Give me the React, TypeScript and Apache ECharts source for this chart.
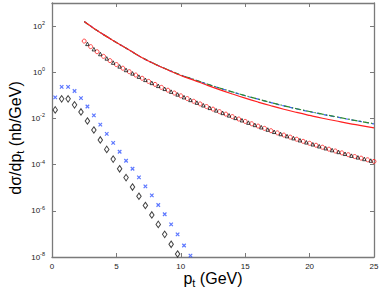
import React, { useEffect, useRef } from "react";
import * as echarts from "echarts";

// Upper curves (theory lines)
const curvePt = [2.5, 3, 3.5, 4, 4.5, 5, 6, 7, 8, 9, 10, 11, 12, 13, 14, 15, 16, 17, 18, 19, 20, 21, 22, 23, 24, 25];
const redSolid = [158, 100, 64.6, 42.7, 28.8, 19.5, 9.12, 4.27, 2.24, 1.26, 0.724, 0.457, 0.282, 0.178, 0.115, 0.0759, 0.0513, 0.0355, 0.0251, 0.0182, 0.0135, 0.0102, 0.00794, 0.00617, 0.0049, 0.00389];
const greenDashDot = [158, 100, 64.6, 42.7, 28.8, 19.5, 9.12, 4.27, 2.25, 1.28, 0.76, 0.49, 0.316, 0.209, 0.142, 0.0977, 0.0692, 0.0490, 0.0355, 0.0263, 0.0200, 0.0153, 0.0120, 0.00933, 0.00741, 0.00589];
const blueDashed = [158, 100, 64.6, 42.7, 28.8, 19.5, 9.12, 4.27, 2.25, 1.28, 0.755, 0.485, 0.312, 0.206, 0.14, 0.0962, 0.0682, 0.0483, 0.035, 0.0259, 0.0197, 0.0151, 0.0118, 0.0092, 0.0073, 0.0058];

// Red circles
const circlePt = [2.5, 3, 3.5, 4, 4.5, 5, 5.5, 6, 6.5, 7, 7.5, 8, 8.5, 9, 9.5, 10, 10.5, 11, 11.5, 12, 12.5, 13, 13.5, 14, 14.5, 15, 15.5, 16, 16.5, 17, 17.5, 18, 18.5, 19, 19.5, 20, 20.5, 21, 21.5, 22, 22.5, 23, 23.5, 24, 24.5, 25];
const circleVal = [22.4, 12.9, 7.76, 4.9, 3.2, 2.16, 1.5, 1.06, 0.759, 0.55, 0.403, 0.299, 0.222, 0.167, 0.126, 0.0955, 0.0728, 0.0555, 0.0426, 0.0328, 0.0254, 0.0197, 0.0154, 0.012, 0.00944, 0.00745, 0.00589, 0.00468, 0.00372, 0.00295, 0.00237, 0.00191, 0.00155, 0.00126, 0.00102, 8.41e-4, 6.92e-4, 5.69e-4, 4.68e-4, 3.89e-4, 3.24e-4, 2.69e-4, 2.24e-4, 1.91e-4, 1.62e-4, 1.38e-4];

// Black triangles
const trianglePt = [2.75, 3.25, 3.75, 4.25, 4.75, 5.25, 5.75, 6.25, 6.75, 7.25, 7.75, 8.25, 8.75, 9.25, 9.75, 10.25, 10.75, 11.25, 11.75, 12.25, 12.75, 13.25, 13.75, 14.25, 14.75, 15.25, 15.75, 16.25, 16.75, 17.25, 17.75, 18.25, 18.75, 19.25, 19.75, 20.25, 20.75, 21.25, 21.75, 22.25, 22.75, 23.25, 23.75, 24.25, 24.75];
const triangleVal = [17.0, 10.0, 6.17, 3.98, 2.63, 1.8, 1.26, 0.895, 0.646, 0.47, 0.347, 0.258, 0.192, 0.145, 0.11, 0.0834, 0.0635, 0.0486, 0.0373, 0.0288, 0.0224, 0.0174, 0.0136, 0.0106, 0.00838, 0.00661, 0.00525, 0.00417, 0.00331, 0.00264, 0.00212, 0.00172, 0.0014, 0.00114, 9.27e-4, 7.62e-4, 6.27e-4, 5.15e-4, 4.27e-4, 3.55e-4, 2.95e-4, 2.45e-4, 2.07e-4, 1.76e-4, 1.5e-4];

// Blue crosses
const crossPt = [0.25, 0.75, 1.25, 1.75, 2.25, 2.75, 3.25, 3.75, 4.25, 4.75, 5.25, 5.75, 6.25, 6.75, 7.25, 7.75, 8.25, 8.75, 9.25, 9.75, 10.25, 10.75];
const crossVal = [0.0813, 0.234, 0.234, 0.155, 0.0759, 0.0331, 0.0135, 0.00537, 0.00214, 8.71e-4, 3.63e-4, 1.48e-4, 6.61e-5, 2.82e-5, 1.15e-5, 4.68e-6, 1.78e-6, 7.08e-7, 2.57e-7, 9.55e-8, 3.16e-8, 1.15e-8];

// Black diamonds
const diamondPt = [0.25, 0.75, 1.25, 1.75, 2.25, 2.75, 3.25, 3.75, 4.25, 4.75, 5.25, 5.75, 6.25, 6.75, 7.25, 7.75, 8.25, 8.75, 9.25, 9.75];
const diamondVal = [0.0234, 0.0708, 0.0708, 0.0389, 0.0191, 0.00776, 0.00316, 0.00117, 4.57e-4, 1.74e-4, 6.61e-5, 2.75e-5, 1.07e-5, 4.27e-6, 1.7e-6, 6.61e-7, 2.57e-7, 9.55e-8, 3.55e-8, 1.35e-8];

const xTicks = { min: 0, max: 25, interval: 5 };
const yRange = { min: 1e-8, max: 1e3 };

const FONT = "'Liberation Sans', Arial, Helvetica, sans-serif";
const AXIS_COLOR = "#7a7a7a";

const zip = (xs: number[], ys: number[]) => xs.map((x, i) => [x, ys[i]]);

export default function App() {
  const ref = useRef<HTMLDivElement>(null);

  useEffect(() => {
    if (!ref.current) return;
    const chart = echarts.init(ref.current, undefined, { renderer: "svg" });

    const axisCommon = {
      axisLine: { show: true, onZero: false, lineStyle: { color: AXIS_COLOR, width: 1.3 } },
      axisTick: { show: true, inside: true, length: 4, lineStyle: { color: AXIS_COLOR, width: 1 } },
      splitLine: { show: false },
    };

    const hollow = (color: string, w = 1) => ({ color: "rgba(255,255,255,0)", borderColor: color, borderWidth: w });

    chart.setOption({
      animation: false,
      backgroundColor: "#ffffff",
      grid: { left: 52, right: 8, top: 3, bottom: 35 },
      xAxis: [
        {
          type: "value",
          ...xTicks,
          position: "bottom",
          ...axisCommon,
          axisLabel: { show: true, color: "#222", fontSize: 8, fontFamily: FONT, margin: 5 },
        },
        {
          type: "value",
          ...xTicks,
          position: "top",
          ...axisCommon,
          axisLabel: { show: false },
        },
      ],
      yAxis: [
        {
          type: "log",
          logBase: 10,
          ...yRange,
          interval: 2,
          position: "left",
          ...axisCommon,
          axisLabel: {
            show: true,
            margin: 7,
            showMaxLabel: false,
            formatter: (v: number) => {
              const e = Math.round(Math.log10(v));
              return e % 2 === 0 ? `{b|10}{e|${e}}` : "";
            },
            rich: {
              b: { fontSize: 8, fontFamily: FONT, color: "#222", lineHeight: 12 },
              e: { fontSize: 5.5, fontFamily: FONT, color: "#222", lineHeight: 6, verticalAlign: "top" },
            },
          },
        },
        {
          type: "log",
          logBase: 10,
          ...yRange,
          interval: 2,
          position: "right",
          ...axisCommon,
          axisLabel: { show: false },
        },
      ],
      graphic: [
        {
          type: "text",
          x: 213,
          y: 278,
          style: {
            text: "{p|p}{s|t}{p| (GeV)}",
            align: "center",
            verticalAlign: "middle",
            fill: "#000",
            rich: {
              p: { fontSize: 16, fontFamily: FONT, lineHeight: 20, fill: "#000" },
              s: { fontSize: 11, fontFamily: FONT, lineHeight: 12, verticalAlign: "bottom", fill: "#000" },
            },
          },
        },
        {
          type: "text",
          x: 15,
          y: 138,
          rotation: Math.PI / 2,
          style: {
            text: "{p|dσ/dp}{s|t}{p| (nb/GeV)}",
            align: "center",
            verticalAlign: "middle",
            fill: "#000",
            rich: {
              p: { fontSize: 16, fontFamily: FONT, lineHeight: 20, fill: "#000" },
              s: { fontSize: 11, fontFamily: FONT, lineHeight: 12, verticalAlign: "bottom", fill: "#000" },
            },
          },
        },
      ],
      series: [
        {
          type: "line",
          data: zip(curvePt, blueDashed),
          showSymbol: false,
          smooth: true,
          lineStyle: { color: "#3b5bff", width: 1.2, type: [4, 3] },
        },
        {
          type: "line",
          data: zip(curvePt, greenDashDot),
          showSymbol: false,
          smooth: true,
          lineStyle: { color: "#2e8b2e", width: 1.2, type: [6, 2, 1.5, 2] },
        },
        {
          type: "line",
          data: zip(curvePt, redSolid),
          showSymbol: false,
          smooth: true,
          lineStyle: { color: "#ff2020", width: 1.2 },
        },
        {
          type: "scatter",
          data: zip(circlePt, circleVal),
          symbol: "circle",
          symbolSize: 4,
          itemStyle: hollow("#ff1a1a", 1),
        },
        {
          type: "scatter",
          data: zip(trianglePt, triangleVal),
          symbol: "triangle",
          symbolSize: 3.5,
          itemStyle: hollow("#111", 1),
        },
        {
          type: "scatter",
          data: zip(crossPt, crossVal),
          symbol: "path://M0,0L10,10M10,0L0,10",
          symbolSize: 3.5,
          itemStyle: hollow("#3355ff", 1.2),
        },
        {
          type: "scatter",
          data: zip(diamondPt, diamondVal),
          symbol: "diamond",
          symbolSize: [4.5, 6.5],
          itemStyle: hollow("#111", 1),
        },
      ],
    });

    return () => chart.dispose();
  }, []);

  return (
    <div
      ref={ref}
      style={{ position: "absolute", left: 0, top: 0, width: 382, height: 292, background: "#fff" }}
    />
  );
}
